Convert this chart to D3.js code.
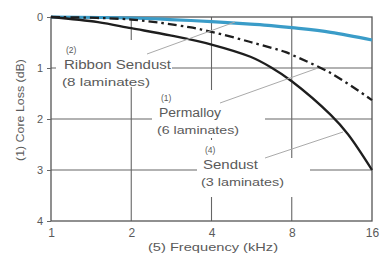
<!DOCTYPE html>
<html><head><meta charset="utf-8">
<script src="https://cdn.jsdelivr.net/npm/d3@7"></script>
<style>body{margin:0;background:#fff}svg{display:block;font-family:"Liberation Sans",Arial,sans-serif}</style>
</head><body><svg id="c" width="380" height="253"></svg>
<script>
const xTicks = [1, 2, 4, 8, 16];
const yTicks = [0, 1, 2, 3, 4];
const ribbonF = [1, 2, 2.8, 4, 5.6, 6.7, 8, 11.2, 16];
const ribbonV = [0, 0.02, 0.05, 0.09, 0.14, 0.17, 0.21, 0.3, 0.45];
const permF = [1, 2, 3.3, 4, 5.6, 7.6, 8, 11.2, 16];
const permV = [0, 0.05, 0.2, 0.29, 0.49, 0.69, 0.74, 1.1, 1.63];
const sendF = [1, 1.5, 2, 2.8, 4, 5.6, 6.7, 8, 11.2, 13, 16];
const sendV = [0, 0.1, 0.22, 0.36, 0.54, 0.78, 0.99, 1.26, 1.92, 2.3, 3.0];
const labels = [
  {num: "(2)", l1: "Ribbon Sendust", l2: "(8 laminates)"},
  {num: "(1)", l1: "Permalloy", l2: "(6 laminates)"},
  {num: "(4)", l1: "Sendust", l2: "(3 laminates)"}
];
const yTitle = "(1) Core Loss (dB)";
const xTitle = "(5) Frequency (kHz)";

const svg = d3.select("#c");
const x = d3.scaleLog().base(2).domain([1, 16]).range([51, 372]);
const y = d3.scaleLinear().domain([0, 4]).range([17, 221]);
const grid = "#666", txt = "#5a5a5a";

// gridlines
svg.append("g").selectAll("line").data(yTicks.slice(1, 4)).join("line")
  .attr("x1", x(1)).attr("x2", x(16)).attr("y1", d => y(d)).attr("y2", d => y(d))
  .attr("stroke", grid).attr("stroke-width", 1.1);
svg.append("g").selectAll("line").data(xTicks.slice(1, 4)).join("line")
  .attr("y1", y(0)).attr("y2", y(4)).attr("x1", d => x(d)).attr("x2", d => x(d))
  .attr("stroke", grid).attr("stroke-width", 1.1);

// white label backgrounds (gaps in gridlines)
const bg = [[56, 40, 116, 47], [152, 90, 113, 48], [197, 140, 18, 18], [197, 158, 113, 39]];
svg.append("g").selectAll("rect").data(bg).join("rect")
  .attr("x", d => d[0]).attr("y", d => d[1]).attr("width", d => d[2]).attr("height", d => d[3])
  .attr("fill", "#fff");

// frame
svg.append("rect").attr("x", x(1)).attr("y", y(0)).attr("width", x(16) - x(1)).attr("height", y(4) - y(0))
  .attr("fill", "none").attr("stroke", "#555").attr("stroke-width", 1.3);

// axes tick labels
const yAxis = d3.axisLeft(y).tickValues(yTicks).tickSize(4).tickFormat(d3.format("d"));
const gy = svg.append("g").attr("transform", `translate(${x(1)},0)`).call(yAxis);
gy.select(".domain").remove();
gy.selectAll("line").attr("stroke", grid);
gy.selectAll("text").attr("fill", txt).attr("font-size", 11).attr("x", -8);
const xAxis = d3.axisBottom(x).tickValues(xTicks).tickSize(0).tickFormat(d3.format("d"));
const gx = svg.append("g").attr("transform", `translate(0,${y(4)})`).call(xAxis);
gx.select(".domain").remove();
gx.selectAll("text").attr("fill", txt).attr("font-size", 12).attr("dy", "1.05em");

// curves
const line = (F, V) => d3.line().x((d, i) => x(F[i])).y(d => y(d)).curve(d3.curveCatmullRom.alpha(0.5))(V);
svg.append("path").attr("d", line(ribbonF, ribbonV)).attr("fill", "none")
  .attr("stroke", "#3a9cc8").attr("stroke-width", 3.2);
svg.append("path").attr("d", line(permF, permV)).attr("fill", "none")
  .attr("stroke", "#1e1e1e").attr("stroke-width", 2.3).attr("stroke-dasharray", "9,4,2.5,4");
svg.append("path").attr("d", line(sendF, sendV)).attr("fill", "none")
  .attr("stroke", "#1e1e1e").attr("stroke-width", 2.3);

// leader lines
const leaders = [[147, 54, 235, 22], [220, 103, 318, 68], [265, 158, 343, 132]];
svg.append("g").selectAll("line").data(leaders).join("line")
  .attr("x1", d => d[0]).attr("y1", d => d[1]).attr("x2", d => d[2]).attr("y2", d => d[3])
  .attr("stroke", "#aaa").attr("stroke-width", 1);

// labels
const lpos = [[64, 65, 107, 88], [159, 113, 62, 82], [203, 165, 55, 83]];
labels.forEach((L, i) => {
  const [lx, ly, w1, w2] = lpos[i];
  svg.append("text").attr("x", lx + 2).attr("y", ly - 12).attr("font-size", 8.5).attr("fill", txt).text(L.num);
  svg.append("text").attr("x", lx).attr("y", ly + 4).attr("font-size", 12).attr("fill", txt)
    .attr("textLength", w1).attr("lengthAdjust", "spacingAndGlyphs").text(L.l1);
  svg.append("text").attr("x", lx - 2).attr("y", ly + 21).attr("font-size", 11).attr("fill", txt)
    .attr("textLength", w2).attr("lengthAdjust", "spacingAndGlyphs").text(L.l2);
});

// titles
svg.append("text").attr("transform", "translate(24,110) rotate(-90)").attr("text-anchor", "middle")
  .attr("font-size", 11).attr("fill", txt).attr("textLength", 102).attr("lengthAdjust", "spacingAndGlyphs").text(yTitle);
svg.append("text").attr("x", 213).attr("y", 251).attr("text-anchor", "middle")
  .attr("font-size", 11).attr("fill", txt).attr("textLength", 130).attr("lengthAdjust", "spacingAndGlyphs").text(xTitle);
</script></body></html>
